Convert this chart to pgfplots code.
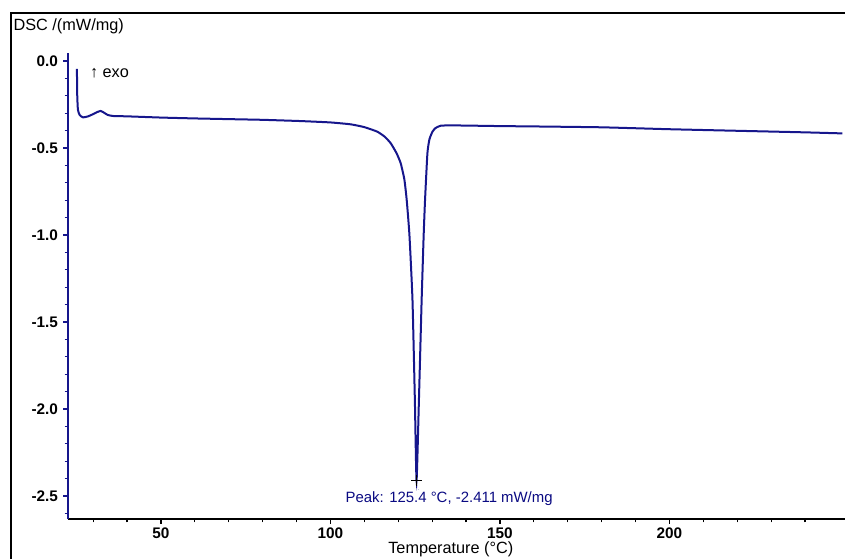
\documentclass[border=0pt]{standalone}
\usepackage{fontspec}
\setmainfont{Liberation Sans}
\usepackage{pgfplots}
\pgfplotsset{compat=1.18}
\definecolor{dscblue}{RGB}{22,22,140}
\definecolor{peaktxt}{RGB}{10,10,130}
\newcommand{\lbl}{\fontsize{12.2}{14}\selectfont}
\newcommand{\tlbl}{\fontsize{11.5}{13}\selectfont}
\begin{document}
\begin{tikzpicture}
  \begin{axis}[
    at={(0,0)}, anchor=south west,
    scale only axis,
    width=582.75pt, height=349.5pt,
    xmin=22.57, xmax=251.8,
    ymin=-2.632, ymax=0.046,
    axis x line=bottom, axis y line=left,
    x axis line style={-, black, line width=1.3pt},
    y axis line style={-, dscblue, line width=1.2pt},
    xtick={50,100,150,200},
    minor xtick={30,40,60,70,80,90,110,120,130,140,160,170,180,190,210,220,230,240},
    ytick={-2.5,-2.0,-1.5,-1.0,-0.5,0.0},
    yticklabels={{-2.5},{-2.0},{-1.5},{-1.0},{-0.5},{0.0}},
    xticklabels={50,100,150,200},
    minor ytick={-2.6,-2.4,-2.3,-2.2,-2.1,-1.9,-1.8,-1.7,-1.6,-1.4,-1.3,-1.2,-1.1,-0.9,-0.8,-0.7,-0.6,-0.4,-0.3,-0.2,-0.1},
    tick align=outside,
    major tick length=3.5pt, minor tick length=2.5pt,
    x tick style={black, line width=0.9pt},
    y tick style={dscblue, line width=0.9pt},
    ticklabel style={font=\tlbl\bfseries},
    yticklabel style={xshift=-0.5pt},
    xticklabel style={yshift=0.3pt},
    clip=false,
  ]

  %% DSC curve
  \addplot[color=dscblue, line width=1.5pt, smooth, tension=0.3] coordinates {
    (25.2,-0.045) (25.3,-0.20) (25.5,-0.28) (26.0,-0.31) (27.0,-0.324)
    (28.5,-0.318) (30.0,-0.305) (31.0,-0.295) (32.2,-0.287) (33.2,-0.297)
    (34.3,-0.31) (35.9,-0.316) (40,-0.318) (50,-0.325) (60,-0.330)
    (70,-0.334) (80,-0.338) (91,-0.345) (100,-0.353) (106,-0.364)
    (110,-0.38) (113.8,-0.406) (116,-0.435) (117.8,-0.473) (119.5,-0.53)
    (120.7,-0.586) (121.8,-0.68) (122.5,-0.80) (123.3,-1.00) (124.2,-1.374)
    (124.9,-1.948) (125.4,-2.411) (126.1,-1.948) (126.9,-1.374) (127.5,-1.00)
    (127.9,-0.80) (128.6,-0.53) (129.2,-0.45) (130.1,-0.406) (131,-0.385)
    (132.5,-0.372) (135,-0.370) (140,-0.371) (150,-0.374) (160,-0.376)
    (180,-0.381) (200,-0.392) (220,-0.401) (240,-0.410) (251,-0.416)
  };

  %% peak marker
  \addplot[only marks, mark=+, mark size=4pt, black, line width=0.6pt] coordinates {(125.4,-2.411)};
  \draw[dscblue!60, densely dotted, thin] (axis cs:125.4,-2.42) -- (axis cs:126.0,-2.47);
  \node[font=\fontsize{11.2}{13}\selectfont, text=peaktxt] at (axis cs:135,-2.517) {Peak: 125.4 °C, -2.411 mW/mg};

  \node[font=\lbl, anchor=west, inner sep=0pt] at (axis cs:29.0,-0.068) {↑ exo};

  \node[font=\lbl, inner sep=0pt] at (axis cs:135.5,-2.805) {Temperature (°C)};
  \end{axis}
  \pgfresetboundingbox
  \useasboundingbox (-51pt,-29.25pt) rectangle (582.75pt,389.25pt);
  \draw[line width=1.5pt] (-42.75pt,-40pt) -- (-42.75pt,379.5pt) -- (600pt,379.5pt);
  \node[font=\lbl, anchor=west, inner sep=0pt] at (-41pt,369.5pt) {DSC /(mW/mg)};
\end{tikzpicture}
\end{document}
